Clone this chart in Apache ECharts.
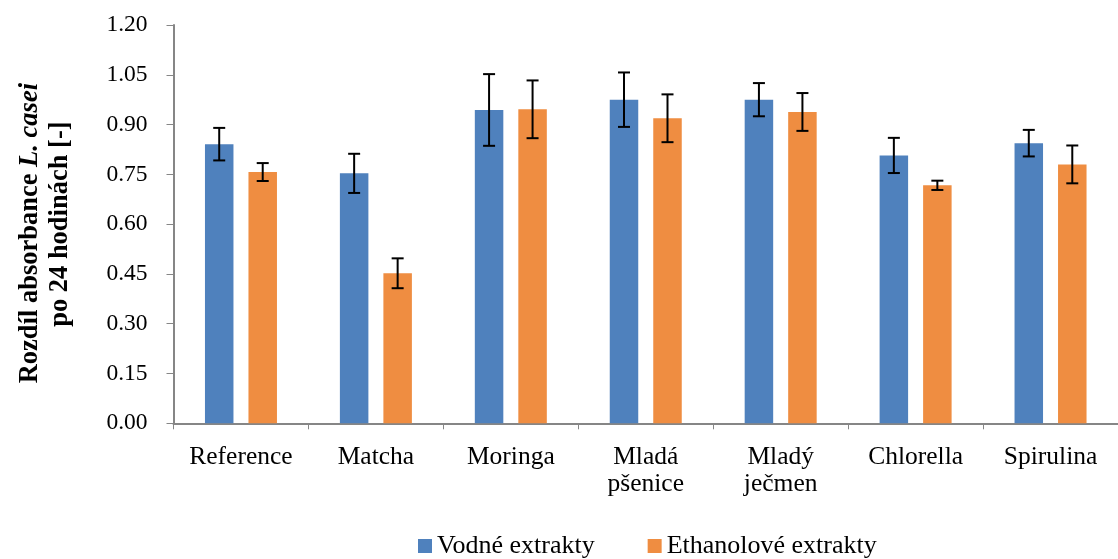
<!DOCTYPE html>
<html>
<head>
<meta charset="utf-8">
<script src="https://cdn.jsdelivr.net/npm/echarts@6/dist/echarts.min.js"></script>
<style>
html,body{margin:0;padding:0;background:#fff;}
#chart{width:1118px;height:559px;}
</style>
</head>
<body>
<div id="chart"></div>
<script>
const categories = ['Reference', 'Matcha', 'Moringa', 'Mladá\npšenice', 'Mladý\nječmen', 'Chlorella', 'Spirulina'];
const seriesNames = ['Vodné extrakty', 'Ethanolové extrakty'];
const vodneValues = [0.841, 0.753, 0.944, 0.975, 0.975, 0.807, 0.844];
const vodneErrors = [0.049, 0.059, 0.108, 0.082, 0.050, 0.053, 0.040];
const ethanolValues = [0.757, 0.452, 0.946, 0.919, 0.938, 0.717, 0.780];
const ethanolErrors = [0.027, 0.045, 0.087, 0.072, 0.057, 0.014, 0.057];
const yTicks = [0, 0.15, 0.30, 0.45, 0.60, 0.75, 0.90, 1.05, 1.20];

const BAR_W = 28.5;
const BAR_GAP_PX = 15;
const OFFSET = (BAR_W + BAR_GAP_PX) / 2;
const FONT = '"Liberation Serif", "Times New Roman", serif';
const colors = ['#4F81BD', '#EF8D41'];

function errorSeries(values, errors, offset) {
  return {
    type: 'custom',
    silent: true,
    z: 10,
    data: values.map((v, i) => [i, v, errors[i]]),
    renderItem: function (params, api) {
      const i = api.value(0), v = api.value(1), e = api.value(2);
      const top = api.coord([i, v + e]);
      const bot = api.coord([i, v - e]);
      const x = top[0] + offset;
      const cap = 6;
      const style = { stroke: '#000', lineWidth: 2 };
      return {
        type: 'group',
        children: [
          { type: 'line', shape: { x1: x, y1: top[1], x2: x, y2: bot[1] }, style },
          { type: 'line', shape: { x1: x - cap, y1: top[1], x2: x + cap, y2: top[1] }, style },
          { type: 'line', shape: { x1: x - cap, y1: bot[1], x2: x + cap, y2: bot[1] }, style }
        ]
      };
    }
  };
}

const chart = echarts.init(document.getElementById('chart'), null, { renderer: 'canvas' });
chart.setOption({
  animation: false,
  color: colors,
  textStyle: { fontFamily: FONT },
  grid: { left: 173.5, right: -11, top: 25, bottom: 135.7, containLabel: false },
  legend: {
    top: 528,
    left: 413,
    icon: 'rect',
    itemWidth: 14,
    itemHeight: 14,
    itemGap: 53,
    data: seriesNames,
    textStyle: { fontFamily: FONT, fontSize: 26, color: '#000' }
  },
  xAxis: {
    type: 'category',
    data: categories,
    axisLine: { lineStyle: { color: '#868686', width: 2 } },
    axisTick: { show: true, length: 6, lineStyle: { color: '#868686', width: 1 } },
    axisLabel: { fontFamily: FONT, fontSize: 25.5, color: '#000', margin: 20, lineHeight: 27, interval: 0 }
  },
  yAxis: {
    type: 'value',
    min: 0,
    max: 1.2,
    interval: 0.15,
    splitLine: { show: false },
    axisLine: { show: true, lineStyle: { color: '#868686', width: 2 } },
    axisTick: { show: true, length: 7, lineStyle: { color: '#868686', width: 1 } },
    axisLabel: {
      fontFamily: FONT, fontSize: 23.5, color: '#000', margin: 26,
      formatter: v => {
        const t = yTicks.find(k => Math.abs(k - v) < 1e-6);
        return (t !== undefined ? t : v).toFixed(2);
      }
    },
    name: '{b|Rozdíl absorbance }{i|L. casei}{s|}\n{b|po 24 hodinách [-]}',
    nameLocation: 'middle',
    nameGap: 98,
    nameRotate: 90,
    nameTextStyle: {
      lineHeight: 30,
      rich: {
        b: { fontFamily: FONT, fontSize: 26.5, fontWeight: 'bold', color: '#000', lineHeight: 30 },
        i: { fontFamily: FONT, fontSize: 26.5, fontWeight: 'bold', fontStyle: 'italic', color: '#000', lineHeight: 30 },
        s: { width: 18, lineHeight: 30 }
      }
    }
  },
  series: [
    { name: seriesNames[0], type: 'bar', data: vodneValues, barWidth: BAR_W, barGap: (BAR_GAP_PX / BAR_W * 100) + '%', itemStyle: { color: colors[0] } },
    { name: seriesNames[1], type: 'bar', data: ethanolValues, barWidth: BAR_W, barGap: (BAR_GAP_PX / BAR_W * 100) + '%', itemStyle: { color: colors[1] } },
    errorSeries(vodneValues, vodneErrors, -OFFSET),
    errorSeries(ethanolValues, ethanolErrors, OFFSET)
  ]
});
</script>
</body>
</html>
